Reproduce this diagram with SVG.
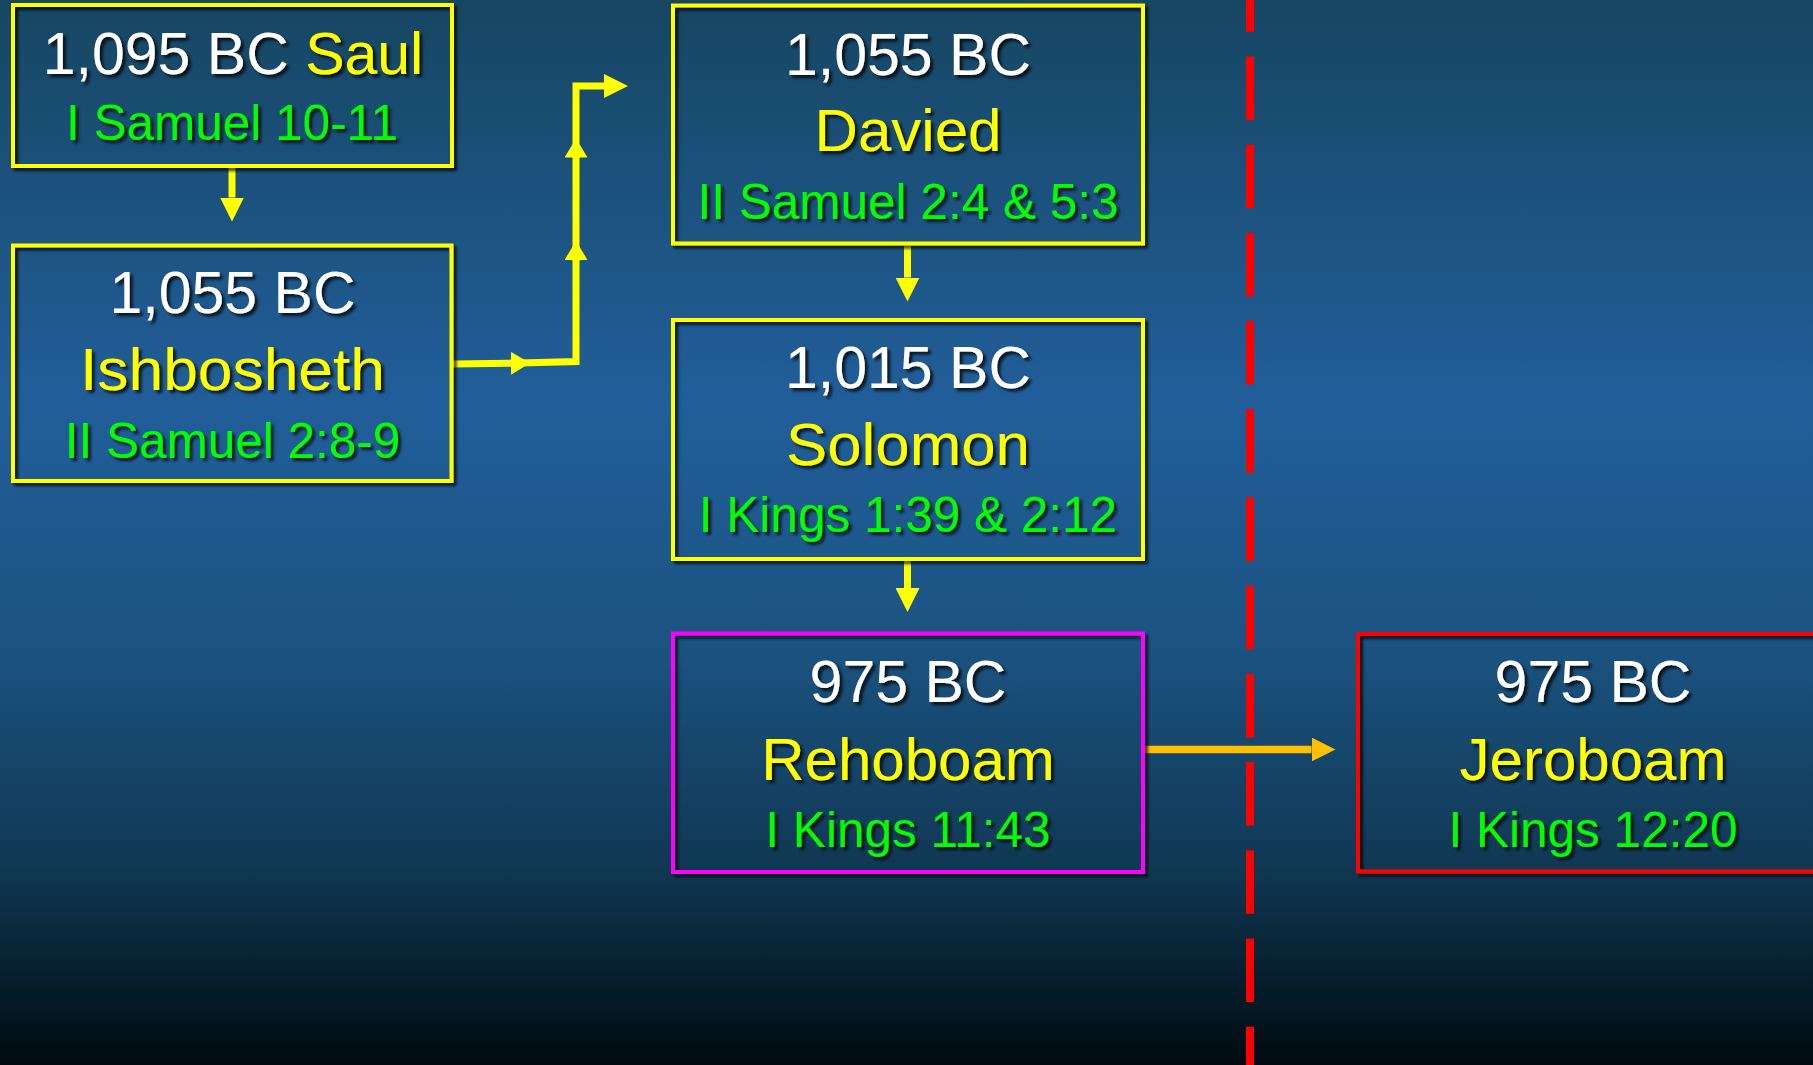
<svg xmlns="http://www.w3.org/2000/svg" width="1813" height="1065" viewBox="0 0 1813 1065">
<defs>
<linearGradient id="bg" x1="0" y1="0" x2="0" y2="1">
<stop offset="0" stop-color="#164662"/>
<stop offset="0.38" stop-color="#215E9A"/>
<stop offset="0.6" stop-color="#1B5482"/>
<stop offset="0.82" stop-color="#103752"/>
<stop offset="0.92" stop-color="#061E2C"/>
<stop offset="1" stop-color="#010A10"/>
</linearGradient>
<filter id="sh" x="-10%" y="-10%" width="120%" height="130%">
<feDropShadow dx="3" dy="3" stdDeviation="1.5" flood-color="#000" flood-opacity="0.75"/>
</filter>
<marker id="ah" markerUnits="userSpaceOnUse" markerWidth="24" markerHeight="24" refX="0" refY="12" orient="auto" viewBox="0 0 24 24">
<path d="M0,0 L24,12 L0,24 z" fill="#FFFF00"/>
</marker>
<marker id="am" markerUnits="userSpaceOnUse" markerWidth="19" markerHeight="23" refX="0" refY="11.5" orient="auto" viewBox="0 0 19 23">
<path d="M0,0 L19,11.5 L0,23 z" fill="#FFFF00"/>
</marker>
<marker id="ao" markerUnits="userSpaceOnUse" markerWidth="24" markerHeight="24" refX="0" refY="12" orient="auto" viewBox="0 0 24 24">
<path d="M0,0 L24,12 L0,24 z" fill="#FFC000"/>
</marker>
</defs>
<style>
.box{fill:none;stroke-width:4;filter:url(#sh)}
.yb{stroke:#FFFF00}
.mb{stroke:#FF00FF}
.rb{stroke:#FF0000}
text{font-family:"Liberation Sans",Arial,sans-serif;text-anchor:middle;filter:url(#sh)}
.d{font-size:59px;fill:#FFFFFF}
.n{font-size:60px;fill:#FFFF00}
.r{font-size:49.5px;fill:#00FF00}
.c{fill:none;stroke:#FFFF00;stroke-width:7;stroke-linejoin:miter}
.co{fill:none;stroke:#FFC000;stroke-width:7.5}
</style>
<rect x="0" y="0" width="1813" height="1065" fill="url(#bg)"/>

<g id="divider">
<line x1="1250" y1="0" x2="1250" y2="1065" stroke="#FF0000" stroke-width="8" stroke-dasharray="63.5 24.7" stroke-dashoffset="31.7"/>
</g>

<g id="connectors">
<path class="c" d="M232,168 V197.5" marker-end="url(#ah)"/>
<path class="c" d="M453,364 L511,363.3" marker-end="url(#am)"/>
<path class="c" d="M510,363.3 L576,361.5 V260" marker-end="url(#am)"/>
<path class="c" d="M576,261 V157.5" marker-end="url(#am)"/>
<path class="c" d="M576,158 V86 H604" marker-end="url(#ah)"/>
<path class="c" d="M907.5,246 V277.5" marker-end="url(#ah)"/>
<path class="c" d="M907.5,561 V588" marker-end="url(#ah)"/>
<path class="co" d="M1144,749.5 H1311.5" marker-end="url(#ao)"/>
</g>

<g id="saul">
<rect class="box yb" x="13" y="5" width="439" height="161"/>
<text x="233" y="74" class="d">1,095 BC <tspan fill="#FFFF00">Saul</tspan></text>
<text x="232" y="140" class="r">I Samuel 10-11</text>
</g>

<g id="ishbosheth">
<rect class="box yb" x="13" y="245.5" width="438.5" height="235.5"/>
<text x="232.5" y="313" class="d">1,055 BC</text>
<text x="232.5" y="390" class="n" textLength="305" lengthAdjust="spacingAndGlyphs">Ishbosheth</text>
<text x="232.5" y="458" class="r">II Samuel 2:8-9</text>
</g>

<g id="davied">
<rect class="box yb" x="673" y="5.5" width="470" height="238"/>
<text x="908" y="74.5" class="d">1,055 BC</text>
<text x="908" y="151" class="n">Davied</text>
<text x="908" y="219" class="r">II Samuel 2:4 &amp; 5:3</text>
</g>

<g id="solomon">
<rect class="box yb" x="673" y="320" width="470" height="239"/>
<text x="908" y="388" class="d">1,015 BC</text>
<text x="908" y="465" class="n" textLength="244" lengthAdjust="spacingAndGlyphs">Solomon</text>
<text x="908" y="532" class="r">I Kings 1:39 &amp; 2:12</text>
</g>

<g id="rehoboam">
<rect class="box mb" x="673" y="633.5" width="470" height="238.5"/>
<text x="908" y="702" class="d">975 BC</text>
<text x="908" y="780" class="n">Rehoboam</text>
<text x="908" y="847" class="r">I Kings 11:43</text>
</g>

<g id="jeroboam">
<rect class="box rb" x="1358" y="634" width="470" height="237.5"/>
<text x="1593" y="702" class="d">975 BC</text>
<text x="1593" y="780" class="n">Jeroboam</text>
<text x="1593" y="847" class="r">I Kings 12:20</text>
</g>
</svg>
